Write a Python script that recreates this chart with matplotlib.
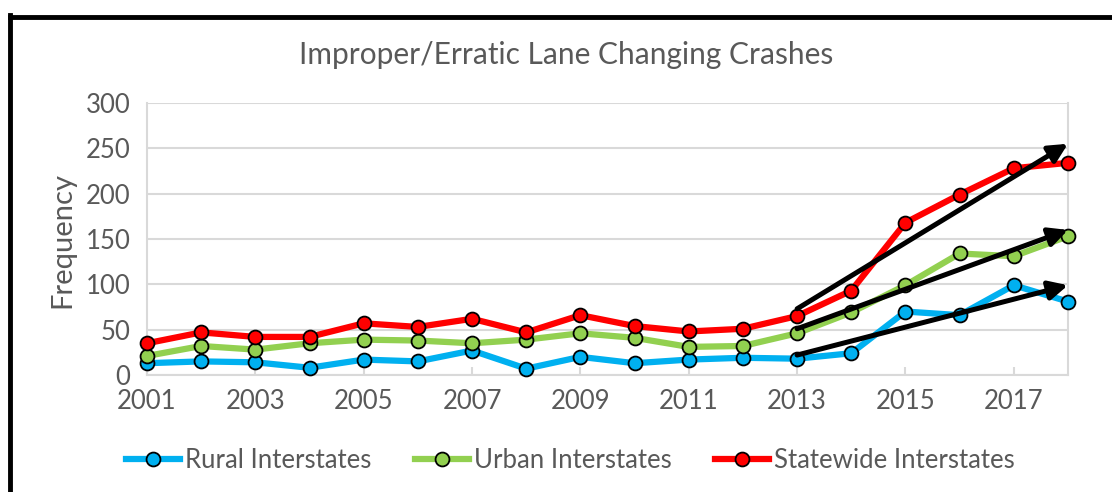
import matplotlib
matplotlib.use("Agg")
import matplotlib.pyplot as plt
from matplotlib.lines import Line2D

years = list(range(2001, 2019))
rural = [13, 15, 14, 8, 17, 15, 27, 7, 20, 13, 17, 19, 18, 24, 70, 66, 99, 81]
urban = [21, 32, 28, 35, 39, 38, 35, 39, 46, 41, 31, 32, 46, 69, 99, 134, 131, 153]
statewide = [35, 47, 42, 42, 57, 53, 62, 47, 66, 54, 48, 51, 65, 93, 168, 199, 228, 234]
series_names = ["Rural Interstates", "Urban Interstates", "Statewide Interstates"]
series_colors = ["#00B0F0", "#92D050", "#FF0000"]
xtick_years = list(range(2001, 2019, 2))
yticks = [0, 50, 100, 150, 200, 250, 300]
# trend arrows: (start_year, start_value, end_year, end_value)
arrows = [
    (2013, 73, 2018, 255),
    (2013, 51, 2018, 160),
    (2013, 22, 2018, 99),
]

plt.rcParams['font.family'] = ['Lato', 'DejaVu Sans']
gray = "#595959"
grid = "#D9D9D9"

fig = plt.figure(figsize=(11.12, 4.92), dpi=100)
ax = fig.add_axes([0.1322, 0.2378, 0.9604 - 0.1322, 0.7907 - 0.2378])

for vals, name, col in zip([rural, urban, statewide], series_names, series_colors):
    ax.plot(years, vals, color=col, lw=4.5, marker='o', markersize=10,
            markerfacecolor=col, markeredgecolor='black', markeredgewidth=1.3,
            label=name, clip_on=False, zorder=3)

for x0, y0, x1, y1 in arrows:
    ax.annotate('', xy=(x1, y1), xytext=(x0, y0),
                arrowprops=dict(arrowstyle='-|>', lw=3.6, color='black',
                                mutation_scale=28, shrinkA=0, shrinkB=0),
                annotation_clip=False, zorder=5)

ax.set_xlim(2001, 2018)
ax.set_ylim(0, 300)
ax.set_yticks(yticks)
ax.set_xticks(xtick_years)
ax.set_xticklabels([str(y) for y in xtick_years])
ax.grid(axis='y', color=grid, lw=1.5, zorder=0)
ax.set_axisbelow(True)
ax.spines['top'].set_visible(False)
for s in ['left', 'bottom', 'right']:
    ax.spines[s].set_color(grid)
    ax.spines[s].set_linewidth(1.5)
ax.tick_params(axis='x', direction='in', length=6, width=1.5, color=grid,
               labelsize=18.5, labelcolor=gray, pad=10)
ax.tick_params(axis='y', length=0, labelsize=18.5, labelcolor=gray, pad=12)

fig.text(0.509, 0.888, "Improper/Erratic Lane Changing Crashes", ha='center',
         va='center', fontsize=21.5, color=gray)
fig.text(0.0558, 0.512, "Frequency", rotation=90, ha='center', va='center',
         fontsize=21, color=gray)

fig.legend(loc='center', bbox_to_anchor=(0.513, 0.065), ncol=3, frameon=False,
           fontsize=18.5, labelcolor=gray, handlelength=2.1, columnspacing=1.7,
           handletextpad=0.2)

fig.add_artist(Line2D([10 / 1112, 1.0], [1 - 17 / 492, 1 - 17 / 492],
                      transform=fig.transFigure, color='black', lw=3.5))
fig.add_artist(Line2D([10 / 1112, 10 / 1112], [1 - 15 / 492, 0.0],
                      transform=fig.transFigure, color='black', lw=3.5))

fig.savefig("out.png", dpi=100)
